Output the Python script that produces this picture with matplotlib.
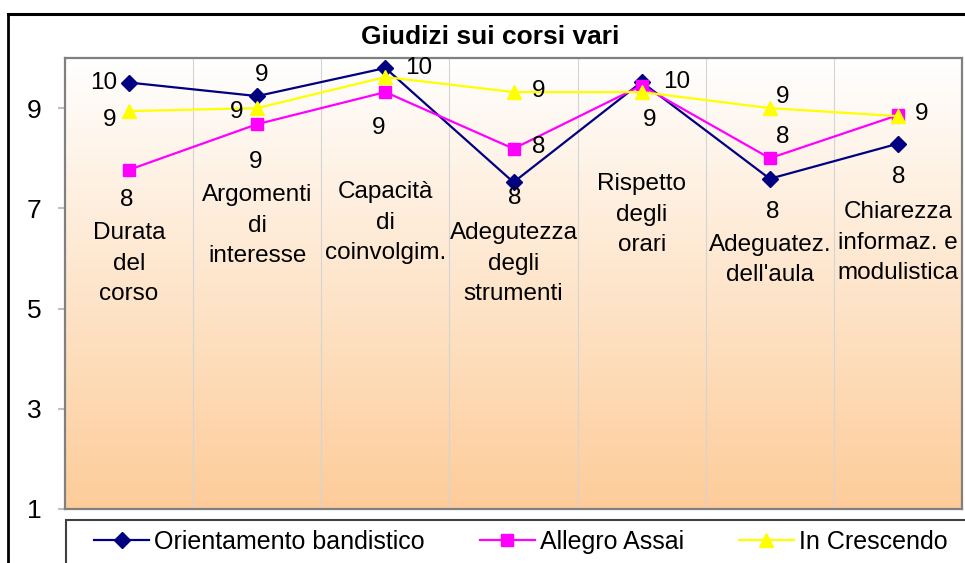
import numpy as np
import matplotlib
matplotlib.use("Agg")
import matplotlib.pyplot as plt
from matplotlib.lines import Line2D
from matplotlib.patches import Rectangle

plt.rcParams['font.family'] = ['Liberation Sans', 'DejaVu Sans']

# data
categories = ["Durata\ndel\ncorso", "Argomenti\ndi\ninteresse", "Capacità\ndi\ncoinvolgim.",
              "Adegutezza\ndegli\nstrumenti", "Rispetto\ndegli\norari",
              "Adeguatez.\ndell'aula", "Chiarezza\ninformaz. e\nmodulistica"]
orientamento = [9.51, 9.24, 9.80, 7.52, 9.52, 7.59, 8.29]
allegro = [7.77, 8.68, 9.32, 8.19, 9.45, 8.00, 8.86]
crescendo = [8.94, 9.00, 9.62, 9.32, 9.32, 9.00, 8.84]
series_names = ["Orientamento bandistico", "Allegro Assai", "In Crescendo"]
y_ticks = [1, 3, 5, 7, 9]

# label placement (pixel offsets from the marker, None = hidden)
off_orient = [(-25, 0), (4, 21), (33, 0), (1, -16), (35, 0), (3, -33), (1, -33)]
off_allegro = [(-2, -30), (-2, -38), (-7, -36), (25, 2), None, (13, 21), None]
off_cresc = [(-19, -9), (-21, -4), None, (25, 1), (8, -28), (13, 11), (24, 2)]
cat_label_y = [5.89, 6.65, 6.71, 5.89, 6.87, 5.97, 6.31]

fig = plt.figure(figsize=(9.65, 5.63), dpi=100)
ax = fig.add_axes([65/965, 54/563, 897/965, 451/563])

x = np.arange(len(categories))

# gradient background of the plot area
grad = np.linspace(0, 1, 256).reshape(-1, 1)
top = np.array([1.0, 1.0, 1.0])
bot = np.array([253, 204, 153]) / 255
img = top + (bot - top) * grad[:, :, None]
ax.imshow(img, extent=[-0.5, len(categories) - 0.5, 1, 10], aspect='auto', zorder=0)

for b in x[:-1] + 0.5:
    ax.axvline(b, color='#D4D4D4', lw=0.8, zorder=1)

styles = [('#000080', 'D', 8), ('#FF00FF', 's', 8.5), ('#FFFF00', '^', 10)]
all_vals = [orientamento, allegro, crescendo]
all_offs = [off_orient, off_allegro, off_cresc]
handles = []
for vals, offs, name, (col, mk, ms) in zip(all_vals, all_offs, series_names, styles):
    h, = ax.plot(x, vals, color=col, marker=mk, markersize=ms, lw=1.6,
                 markeredgecolor=col, label=name, zorder=3)
    handles.append(h)
    for xi, v, o in zip(x, vals, offs):
        if o is None:
            continue
        ax.annotate(f"{v:.0f}", (xi, v), xytext=o, textcoords='offset pixels',
                    ha='center', va='center', fontsize=17.5, zorder=4)

for xi, name, ly in zip(x, categories, cat_label_y):
    ax.text(xi, ly, name, ha='center', va='center', fontsize=17.5,
            linespacing=1.5, zorder=4)

ax.set_xlim(-0.5, len(categories) - 0.5)
ax.set_ylim(1, 10)
ax.set_xticks([])
ax.set_yticks(y_ticks)
ax.tick_params(axis='y', direction='out', length=5, width=1.5, color='#C0C0C0',
               labelsize=19, pad=12)
for s in ax.spines.values():
    s.set_color('#808080')
    s.set_linewidth(1.6)

fig.text(490/965, 1 - 37/563, "Giudizi sui corsi vari", ha='center', va='center',
         fontsize=19, fontweight='bold')

# outer chart border (cut off at right and bottom)
fig.add_artist(Line2D([8/965, 8/965], [-0.05, 1 - 14/563], color='black', lw=2,
                      transform=fig.transFigure))
fig.add_artist(Line2D([8/965, 1.05], [1 - 14/563, 1 - 14/563], color='black', lw=2.2,
                      transform=fig.transFigure))

# legend box
fig.add_artist(Rectangle((66/965, -0.1), 1.0, 0.1 + 1 - 520/563, fill=True,
                         facecolor='white', edgecolor='#404040', lw=1.5,
                         transform=fig.transFigure))
fig.legend(handles=handles, loc='center left', bbox_to_anchor=(94/965, 1 - 542/563),
           ncol=3, frameon=False, fontsize=18, handlelength=2.2, handletextpad=0.2,
           columnspacing=2.2, borderpad=0, borderaxespad=0)

fig.savefig("out.png", dpi=100)
